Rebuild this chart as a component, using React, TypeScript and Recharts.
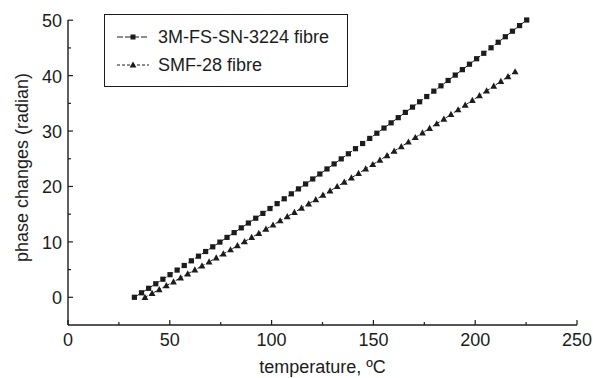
import { Line, LineChart, XAxis, YAxis } from "recharts"

// 3M-FS-SN-3224 fibre
const tempFs = [
  32.6, 36.1, 39.6, 43.1, 46.6, 50.1, 53.6, 57.1, 60.6, 64.1, 67.6, 71.1, 74.6, 78.1,
  81.6, 85.1, 88.6, 92.2, 95.7, 99.2, 102.7, 106.2, 109.7, 113.2, 116.7, 120.2, 123.7,
  127.2, 130.7, 134.2, 137.7, 141.2, 144.7, 148.2, 151.7, 155.2, 158.7, 162.2, 165.7,
  169.2, 172.7, 176.2, 179.7, 183.2, 186.7, 190.2, 193.7, 197.2, 200.7, 204.2, 207.8,
  211.3, 214.8, 218.3, 221.8, 225.3,
]
const phaseFs = [
  0, 0.81, 1.62, 2.44, 3.26, 4.08, 4.91, 5.74, 6.58, 7.42, 8.26, 9.11, 9.96, 10.81,
  11.67, 12.53, 13.4, 14.27, 15.14, 16.02, 16.9, 17.78, 18.67, 19.56, 20.45, 21.35,
  22.25, 23.16, 24.07, 24.98, 25.9, 26.82, 27.75, 28.67, 29.61, 30.54, 31.48, 32.42,
  33.37, 34.32, 35.28, 36.23, 37.2, 38.16, 39.13, 40.1, 41.08, 42.06, 43.05, 44.03,
  45.03, 46.02, 47.02, 48.02, 49.03, 50.04,
]

// SMF-28 fibre
const tempSmf = [
  37.8, 41.3, 44.8, 48.3, 51.8, 55.3, 58.8, 62.3, 65.8, 69.3, 72.8, 76.3, 79.8, 83.2,
  86.7, 90.2, 93.7, 97.2, 100.7, 104.2, 107.7, 111.2, 114.7, 118.2, 121.7, 125.2,
  128.7, 132.2, 135.7, 139.2, 142.7, 146.2, 149.7, 153.2, 156.7, 160.2, 163.7, 167.2,
  170.6, 174.1, 177.6, 181.1, 184.6, 188.1, 191.6, 195.1, 198.6, 202.1, 205.6, 209.1,
  212.6, 216.1, 219.6,
]
const phaseSmf = [
  0, 0.7, 1.4, 2.1, 2.8, 3.51, 4.23, 4.94, 5.66, 6.39, 7.11, 7.84, 8.58, 9.31, 10.05,
  10.8, 11.54, 12.29, 13.05, 13.81, 14.57, 15.33, 16.1, 16.87, 17.64, 18.42, 19.2,
  19.99, 20.77, 21.56, 22.36, 23.16, 23.96, 24.76, 25.57, 26.38, 27.2, 28.02, 28.84,
  29.66, 30.49, 31.32, 32.16, 33.0, 33.84, 34.68, 35.53, 36.39, 37.24, 38.1, 38.96,
  39.83, 40.7,
]

const xTicks = [0, 25, 50, 75, 100, 125, 150, 175, 200, 225, 250]
const yTicks = [0, 5, 10, 15, 20, 25, 30, 35, 40, 45, 50]

const fsData = tempFs.map((t, i) => ({ t, v: phaseFs[i] }))
const smfData = tempSmf.map((t, i) => ({ t, v: phaseSmf[i] }))

const FONT = "'Liberation Sans', Arial, sans-serif"
const INK = "#1c1c1c"
const FS = 18

function XTick(props: any) {
  const { x, y, payload } = props
  const major = payload.value % 50 === 0
  return (
    <g>
      <line x1={x} y1={y} x2={x} y2={y - (major ? 5 : 3)} stroke={INK} strokeWidth={1.2} />
      {major && (
        <text x={x} y={y + 21} textAnchor="middle" fontSize={FS} fontFamily={FONT} fill={INK}>
          {payload.value}
        </text>
      )}
    </g>
  )
}

function YTick(props: any) {
  const { x, y, payload } = props
  const major = payload.value % 10 === 0
  return (
    <g>
      <line x1={x} y1={y} x2={x + (major ? 5 : 3)} y2={y} stroke={INK} strokeWidth={1.2} />
      {major && (
        <text x={x - 6} y={y + 7} textAnchor="end" fontSize={FS} fontFamily={FONT} fill={INK}>
          {payload.value}
        </text>
      )}
    </g>
  )
}

const square = (props: any) => {
  const { cx, cy, index } = props
  return <rect key={`s${index}`} x={cx - 2.6} y={cy - 2.6} width={5.2} height={5.2} fill={INK} />
}

const triangle = (props: any) => {
  const { cx, cy, index } = props
  return (
    <path
      key={`t${index}`}
      d={`M${cx},${cy - 3.6} L${cx + 3.4},${cy + 2.6} L${cx - 3.4},${cy + 2.6} Z`}
      fill={INK}
    />
  )
}

function LegendBox() {
  const rows = [
    { name: "3M-FS-SN-3224 fibre", dash: "6 2", mark: "square" },
    { name: "SMF-28 fibre", dash: "3 2", mark: "tri" },
  ]
  return (
    <div
      style={{
        position: "absolute",
        left: 104,
        top: 14,
        border: `1.5px solid ${INK}`,
        width: 244,
        height: 73,
        boxSizing: "border-box",
        background: "#fff",
        fontFamily: FONT,
        fontSize: FS,
        color: INK,
      }}
    >
      {rows.map((r, i) => (
        <div
          key={r.name}
          style={{ display: "flex", alignItems: "center", height: 28, marginTop: i === 0 ? 8 : 0 }}
        >
          <svg width={34} height={14} style={{ marginLeft: 11 }}>
            <line x1={1} y1={7} x2={33} y2={7} stroke={INK} strokeDasharray={r.dash} />
            {r.mark === "square" ? (
              <rect x={14.5} y={4.5} width={5} height={5} fill={INK} />
            ) : (
              <path d="M17,3.5 L20.4,9.6 L13.6,9.6 Z" fill={INK} />
            )}
          </svg>
          <span style={{ marginLeft: 8 }}>{r.name}</span>
        </div>
      ))}
    </div>
  )
}

export default function App() {
  return (
    <div style={{ position: "relative", width: 593, height: 378, background: "#fff" }}>
      <style>{`body{margin:0}`}</style>
      <LineChart width={593} height={378} margin={{ top: 20, right: 16, bottom: 0, left: 0 }}>
        <XAxis
          type="number"
          dataKey="t"
          domain={[0, 250]}
          ticks={xTicks}
          interval={0}
          height={53}
          tickSize={0}
          tickMargin={0}
          tickLine={false}
          tick={<XTick />}
          axisLine={{ stroke: INK, strokeWidth: 1.4 }}
          label={({ viewBox }: any) => (
            <text
              x={viewBox.x + viewBox.width / 2}
              y={viewBox.y + 48}
              textAnchor="middle"
              fontSize={FS}
              fontFamily={FONT}
              fill={INK}
            >
              temperature, ºC
            </text>
          )}
        />
        <YAxis
          type="number"
          dataKey="v"
          domain={[-5, 50]}
          ticks={yTicks}
          interval={0}
          width={68}
          tickSize={0}
          tickMargin={0}
          tickLine={false}
          tick={<YTick />}
          axisLine={{ stroke: INK, strokeWidth: 1.4 }}
          label={({ viewBox }: any) => {
            const cx = viewBox.x + 22
            const cy = viewBox.y + viewBox.height / 2 - 5
            return (
              <text
                x={cx}
                y={cy}
                transform={`rotate(-90, ${cx}, ${cy})`}
                textAnchor="middle"
                dominantBaseline="central"
                fontSize={FS}
                fontFamily={FONT}
                fill={INK}
              >
                phase changes (radian)
              </text>
            )
          }}
        />
        <Line
          data={fsData}
          dataKey="v"
          name="3M-FS-SN-3224 fibre"
          type="linear"
          stroke={INK}
          strokeWidth={1}
          strokeDasharray="6 2"
          dot={square}
          activeDot={false}
          isAnimationActive={false}
        />
        <Line
          data={smfData}
          dataKey="v"
          name="SMF-28 fibre"
          type="linear"
          stroke={INK}
          strokeWidth={1}
          strokeDasharray="3 2"
          dot={triangle}
          activeDot={false}
          isAnimationActive={false}
        />
      </LineChart>
      <LegendBox />
    </div>
  )
}
